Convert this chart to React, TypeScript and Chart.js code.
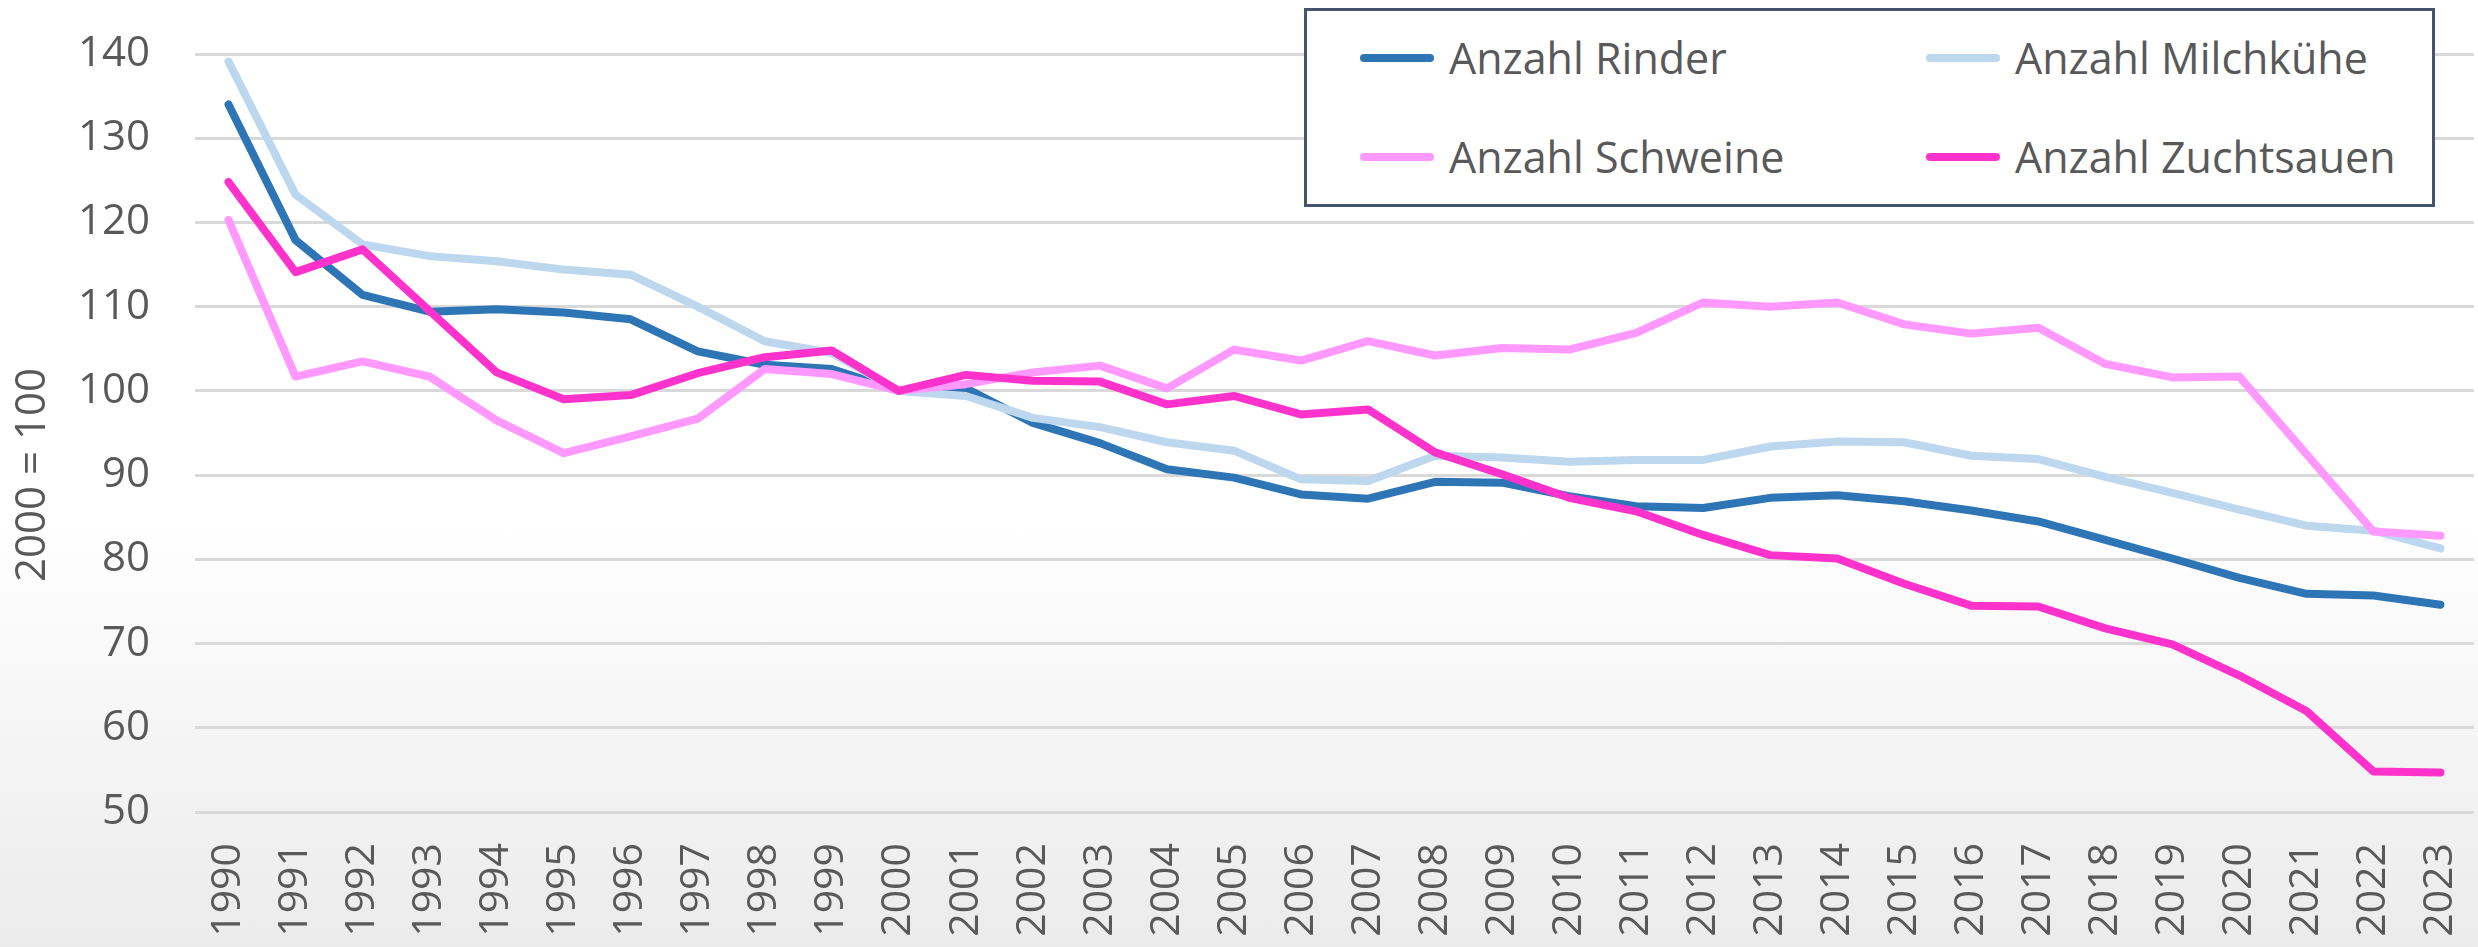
import React, { useEffect, useRef } from "react";
import { Chart, registerables } from "chart.js";

Chart.register(...registerables);

const years: string[] = [
  "1990", "1991", "1992", "1993", "1994", "1995", "1996", "1997", "1998", "1999",
  "2000", "2001", "2002", "2003", "2004", "2005", "2006", "2007", "2008", "2009",
  "2010", "2011", "2012", "2013", "2014", "2015", "2016", "2017", "2018", "2019",
  "2020", "2021", "2022", "2023",
];

const rinder: number[] = [
  134.0, 117.9, 111.4, 109.4, 109.7, 109.3, 108.5, 104.7, 103.1, 102.6,
  100.0, 100.3, 96.2, 93.8, 90.7, 89.7, 87.7, 87.2, 89.2, 89.1,
  87.5, 86.3, 86.1, 87.3, 87.6, 86.9, 85.8, 84.5, 82.3, 80.1,
  77.8, 75.9, 75.7, 74.6,
];

const milchkuehe: number[] = [
  139.1, 123.3, 117.4, 116.0, 115.4, 114.4, 113.8, 110.0, 105.9, 104.5,
  100.0, 99.4, 96.8, 95.7, 93.9, 92.9, 89.5, 89.3, 92.3, 92.1,
  91.6, 91.8, 91.8, 93.4, 94.0, 93.9, 92.3, 91.9, 89.8, 87.9,
  85.9, 84.0, 83.4, 81.3,
];

const schweine: number[] = [
  120.3, 101.7, 103.5, 101.7, 96.5, 92.6, 94.6, 96.7, 102.6, 102.0,
  100.0, 100.8, 102.2, 103.0, 100.3, 104.9, 103.6, 105.9, 104.2, 105.1,
  104.9, 106.9, 110.5, 110.0, 110.5, 107.9, 106.8, 107.5, 103.2, 101.6,
  101.7, 92.5, 83.3, 82.8,
];

const zuchtsauen: number[] = [
  124.8, 114.1, 116.8, 109.5, 102.2, 99.0, 99.5, 102.1, 104.0, 104.8,
  100.0, 101.9, 101.2, 101.1, 98.4, 99.4, 97.2, 97.8, 92.7, 90.1,
  87.3, 85.7, 82.9, 80.5, 80.1, 77.1, 74.5, 74.4, 71.8, 69.9,
  66.2, 62.0, 54.8, 54.7,
];

const seriesNames: string[] = ["Anzahl Rinder", "Anzahl Milchkühe", "Anzahl Schweine", "Anzahl Zuchtsauen"];
const seriesColors: string[] = ["#2E75B6", "#BDD7EE", "#FF99FF", "#FF33CC"];
const yAxisTitle = "2000 = 100";

const FONT = "'Open Sans', 'DejaVu Sans', sans-serif";
const TEXT_COLOR = "#595959";

export default function App() {
  const canvasRef = useRef<HTMLCanvasElement | null>(null);

  useEffect(() => {
    const canvas = canvasRef.current;
    if (!canvas) return;
    const values = [rinder, milchkuehe, schweine, zuchtsauen];
    const orders = [3, 2, 1, 0];
    const chart = new Chart(canvas, {
      type: "line",
      data: {
        labels: years,
        datasets: values.map((d, i) => ({
          label: seriesNames[i],
          data: d,
          borderColor: seriesColors[i],
          backgroundColor: seriesColors[i],
          borderWidth: 8,
          borderCapStyle: "round" as const,
          borderJoinStyle: "round" as const,
          pointRadius: 0,
          tension: 0,
          fill: false,
          order: orders[i],
        })),
      },
      options: {
        responsive: false,
        animation: false,
        layout: { padding: { top: 54, right: 4, left: 0, bottom: 0 } },
        plugins: {
          legend: { display: false },
          tooltip: { enabled: false },
          title: { display: false },
        },
        scales: {
          x: {
            offset: true,
            grid: { display: false, drawTicks: false },
            border: { display: false },
            ticks: {
              autoSkip: false,
              maxRotation: 90,
              minRotation: 90,
              padding: 31,
              color: TEXT_COLOR,
              font: { family: FONT, size: 41 },
            },
            afterFit: (scale: any) => {
              scale.height = 135;
              scale.paddingLeft = 0;
              scale.paddingRight = 0;
            },
          },
          y: {
            min: 50,
            max: 140,
            grid: { color: "#D9D9D9", lineWidth: 3, drawTicks: false },
            border: { display: false },
            ticks: {
              stepSize: 10,
              padding: 45,
              color: TEXT_COLOR,
              font: { family: FONT, size: 42 },
            },
            afterFit: (scale: any) => {
              scale.width = 195;
              scale.paddingTop = 0;
              scale.paddingBottom = 0;
            },
          },
        },
      },
    });
    return () => chart.destroy();
  }, []);

  const legendRows = [
    { idx: 0, col: 0, row: 0 },
    { idx: 1, col: 1, row: 0 },
    { idx: 2, col: 0, row: 1 },
    { idx: 3, col: 1, row: 1 },
  ];
  const colX = [1360, 1926];
  const rowY = [58, 157];

  return (
    <div
      style={{
        position: "fixed",
        left: 0,
        top: 0,
        width: 2478,
        height: 947,
        overflow: "hidden",
        background: "linear-gradient(180deg, #ffffff 0%, #ffffff 55%, #ebebeb 100%)",
        fontFamily: FONT,
      }}
    >
      <canvas ref={canvasRef} width={2478} height={947} style={{ position: "absolute", left: 0, top: 0 }} />
      <div
        style={{
          position: "absolute",
          left: 29 - 150,
          top: 475 - 28,
          width: 300,
          height: 56,
          lineHeight: "56px",
          textAlign: "center",
          fontSize: 42,
          color: TEXT_COLOR,
          transform: "rotate(-90deg)",
          whiteSpace: "nowrap",
        }}
      >
        {yAxisTitle}
      </div>
      <div
        style={{
          position: "absolute",
          left: 1304,
          top: 8,
          width: 2435 - 1304,
          height: 207 - 8,
          boxSizing: "border-box",
          border: "3px solid #44546A",
          background: "#ffffff",
        }}
      />
      {legendRows.map((r) => (
        <React.Fragment key={r.idx}>
          <div
            style={{
              position: "absolute",
              left: colX[r.col],
              top: rowY[r.row] - 4,
              width: 74,
              height: 8,
              borderRadius: 4,
              background: seriesColors[r.idx],
            }}
          />
          <div
            style={{
              position: "absolute",
              left: colX[r.col] + 89,
              top: rowY[r.row] - 29,
              height: 58,
              lineHeight: "58px",
              fontSize: 43,
              color: TEXT_COLOR,
              whiteSpace: "nowrap",
            }}
          >
            {seriesNames[r.idx]}
          </div>
        </React.Fragment>
      ))}
    </div>
  );
}
